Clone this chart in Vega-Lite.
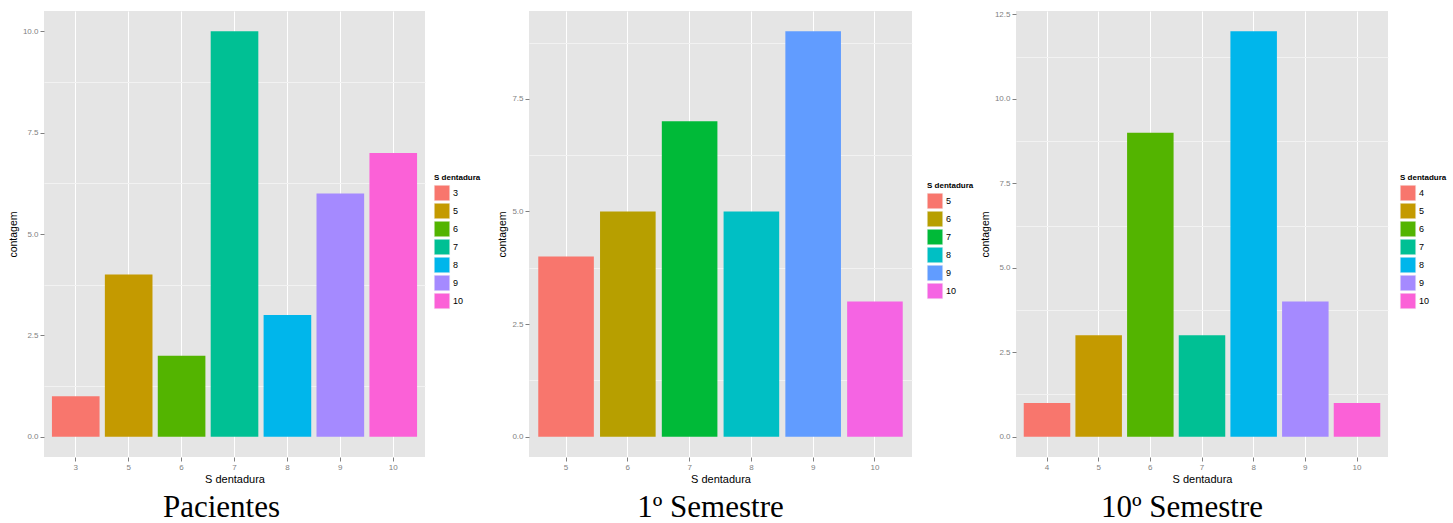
{
  "$schema": "https://vega.github.io/schema/vega-lite/v6.json",
  "background": "white",
  "padding": {"left": 8, "top": 10, "right": 0, "bottom": 0},
  "bounds": "flush",
  "spacing": 104,
  "resolve": {"scale": {"color": "independent"}, "legend": {"color": "independent"}},
  "hconcat": [
    {
      "width": 381,
      "height": 446,
      "title": {"text": "Pacientes", "dx": -13},
      "data": {"values": [
        {"S": 3, "n": 1}, {"S": 5, "n": 4}, {"S": 6, "n": 2}, {"S": 7, "n": 10},
        {"S": 8, "n": 3}, {"S": 9, "n": 6}, {"S": 10, "n": 7}
      ]},
      "encoding": {
        "x": {"field": "S", "type": "ordinal", "title": "S dentadura",
              "scale": {"paddingInner": 0.1, "paddingOuter": 0.15}}
      },
      "layer": [
        {
          "mark": {"type": "bar", "opacity": 0},
          "encoding": {
            "y": {"field": "n", "type": "quantitative",
                  "scale": {"domain": [-0.5, 10.5], "nice": false, "zero": false},
                  "axis": {"orient": "left", "values": [1.25, 3.75, 6.25, 8.75], "grid": true, "gridColor": "#F2F2F2",
                           "labels": false, "ticks": false, "domain": false, "title": null}}
          }
        },
        {
          "mark": {"type": "bar"},
          "encoding": {
            "y": {"field": "n", "type": "quantitative", "title": "contagem",
                  "scale": {"domain": [-0.5, 10.5], "nice": false, "zero": false},
                  "axis": {"orient": "left", "values": [0, 2.5, 5, 7.5, 10], "format": ".1f"}},
            "color": {"field": "S", "type": "ordinal", "title": "S dentadura",
                      "scale": {"range": ["#F8766D", "#C49A00", "#53B400", "#00C094", "#00B6EB", "#A58AFF", "#FB61D7"]},
                      "legend": {"legendX": 390, "legendY": 163}}
          }
        }
      ],
      "resolve": {"axis": {"y": "independent"}}
    },
    {
      "width": 383,
      "height": 446,
      "title": {"text": "1º Semestre", "dx": -10},
      "data": {"values": [
        {"S": 5, "n": 4}, {"S": 6, "n": 5}, {"S": 7, "n": 7}, {"S": 8, "n": 5},
        {"S": 9, "n": 9}, {"S": 10, "n": 3}
      ]},
      "encoding": {
        "x": {"field": "S", "type": "ordinal", "title": "S dentadura",
              "scale": {"paddingInner": 0.1, "paddingOuter": 0.15}}
      },
      "layer": [
        {
          "mark": {"type": "bar", "opacity": 0},
          "encoding": {
            "y": {"field": "n", "type": "quantitative",
                  "scale": {"domain": [-0.45, 9.45], "nice": false, "zero": false},
                  "axis": {"orient": "left", "values": [1.25, 3.75, 6.25, 8.75], "grid": true, "gridColor": "#F2F2F2",
                           "labels": false, "ticks": false, "domain": false, "title": null}}
          }
        },
        {
          "mark": {"type": "bar"},
          "encoding": {
            "y": {"field": "n", "type": "quantitative", "title": "contagem",
                  "scale": {"domain": [-0.45, 9.45], "nice": false, "zero": false},
                  "axis": {"orient": "left", "values": [0, 2.5, 5, 7.5], "format": ".1f"}},
            "color": {"field": "S", "type": "ordinal", "title": "S dentadura",
                      "scale": {"range": ["#F8766D", "#B79F00", "#00BA38", "#00BFC4", "#619CFF", "#F564E3"]},
                      "legend": {"legendX": 398, "legendY": 171}}
          }
        }
      ],
      "resolve": {"axis": {"y": "independent"}}
    },
    {
      "width": 372,
      "height": 446,
      "title": {"text": "10º Semestre", "dx": -20},
      "data": {"values": [
        {"S": 4, "n": 1}, {"S": 5, "n": 3}, {"S": 6, "n": 9}, {"S": 7, "n": 3},
        {"S": 8, "n": 12}, {"S": 9, "n": 4}, {"S": 10, "n": 1}
      ]},
      "encoding": {
        "x": {"field": "S", "type": "ordinal", "title": "S dentadura",
              "scale": {"paddingInner": 0.1, "paddingOuter": 0.15}}
      },
      "layer": [
        {
          "mark": {"type": "bar", "opacity": 0},
          "encoding": {
            "y": {"field": "n", "type": "quantitative",
                  "scale": {"domain": [-0.6, 12.6], "nice": false, "zero": false},
                  "axis": {"orient": "left", "values": [1.25, 3.75, 6.25, 8.75, 11.25], "grid": true, "gridColor": "#F2F2F2",
                           "labels": false, "ticks": false, "domain": false, "title": null}}
          }
        },
        {
          "mark": {"type": "bar"},
          "encoding": {
            "y": {"field": "n", "type": "quantitative", "title": "contagem",
                  "scale": {"domain": [-0.6, 12.6], "nice": false, "zero": false},
                  "axis": {"orient": "left", "values": [0, 2.5, 5, 7.5, 10, 12.5], "format": ".1f"}},
            "color": {"field": "S", "type": "ordinal", "title": "S dentadura",
                      "scale": {"range": ["#F8766D", "#C49A00", "#53B400", "#00C094", "#00B6EB", "#A58AFF", "#FB61D7"]},
                      "legend": {"legendX": 384, "legendY": 163}}
          }
        }
      ],
      "resolve": {"axis": {"y": "independent"}}
    }
  ],
  "config": {
    "font": "Liberation Sans",
    "view": {"fill": "#E5E5E5", "stroke": null},
    "axis": {
      "domain": false,
      "tickColor": "#7F7F7F",
      "tickSize": 4,
      "labelColor": "#7F7F7F",
      "labelFontSize": 8,
      "labelPadding": 2,
      "titleFontSize": 11,
      "titleFontWeight": "normal",
      "titleColor": "black",
      "gridColor": "white",
      "gridWidth": 1
    },
    "axisX": {"labelAngle": 0, "bandPosition": 0.5, "grid": true, "titlePadding": 2},
    "axisY": {"grid": true, "titleFontSize": 10.5, "titlePadding": 4},
    "legend": {
      "orient": "none",
      "symbolType": "square",
      "symbolSize": 240,
      "symbolStrokeColor": "#F2F2F2",
      "symbolStrokeWidth": 0.5,
      "rowPadding": 0,
      "labelFontSize": 9,
      "labelColor": "black",
      "labelOffset": 3,
      "titleFontSize": 8,
      "titleFontWeight": "bold",
      "titleColor": "black",
      "titlePadding": 3,
      "padding": 0
    },
    "title": {
      "orient": "bottom",
      "font": "Liberation Serif",
      "fontSize": 31,
      "fontWeight": "normal",
      "color": "black",
      "anchor": "middle",
      "frame": "group",
      "baseline": "alphabetic",
      "offset": 9
    }
  }
}
